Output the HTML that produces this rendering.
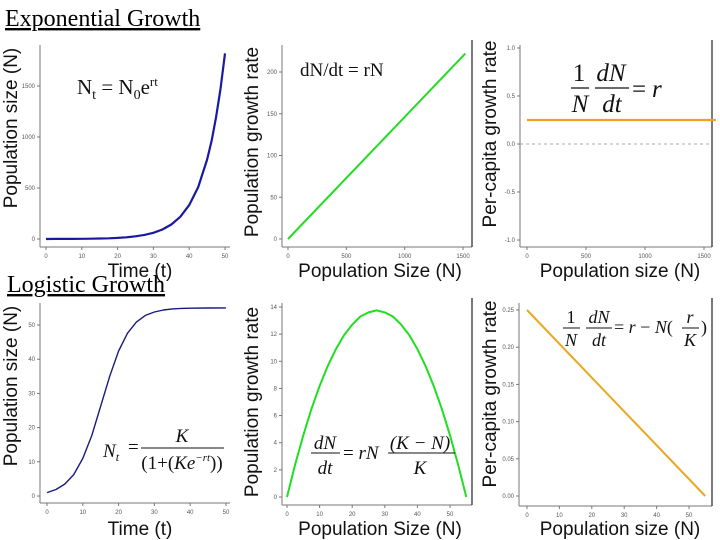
<!DOCTYPE html>
<html><head><meta charset="utf-8"><style>
html,body{margin:0;padding:0;background:#fff;width:720px;height:540px;overflow:hidden}
svg{display:block}
.tk{font-family:"Liberation Sans",sans-serif;font-size:6px;fill:#555}
.at{font-family:"Liberation Sans",sans-serif;font-size:19px;fill:#111}
.eq{font-family:"Liberation Serif",serif;fill:#111}
.hd{font-family:"Liberation Serif",serif;font-size:24px;fill:#000;text-decoration:underline}
</style></head><body>
<svg id="s" width="720" height="540" xmlns="http://www.w3.org/2000/svg">
<text class="hd" x="5" y="26">Exponential Growth</text>
<text class="hd" x="7" y="292">Logistic Growth</text>

<text class="at" transform="translate(17,128) rotate(-90)" text-anchor="middle">Population size (N)</text>
<text class="at" transform="translate(258,142) rotate(-90)" text-anchor="middle">Population growth rate</text>
<text class="at" transform="translate(496,134) rotate(-90)" text-anchor="middle">Per-capita growth rate</text>
<text class="at" transform="translate(17,386) rotate(-90)" text-anchor="middle">Population size (N)</text>
<text class="at" transform="translate(258,402) rotate(-90)" text-anchor="middle">Population growth rate</text>
<text class="at" transform="translate(496,394) rotate(-90)" text-anchor="middle">Per-capita growth rate</text>

<text class="at" x="140" y="277" text-anchor="middle">Time (t)</text>
<text class="at" x="380" y="277" text-anchor="middle">Population Size (N)</text>
<text class="at" x="620" y="277" text-anchor="middle">Population size (N)</text>
<text class="at" x="140" y="535" text-anchor="middle">Time (t)</text>
<text class="at" x="380" y="535" text-anchor="middle">Population Size (N)</text>
<text class="at" x="620" y="535" text-anchor="middle">Population size (N)</text>

<g id="plots"></g>

<g class="eq">
<text x="77" y="94" font-size="21">N<tspan font-size="14" dy="5">t</tspan><tspan dy="-5"> = N</tspan><tspan font-size="14" dy="5">0</tspan><tspan dy="-5">e</tspan><tspan font-size="13" dy="-8">rt</tspan></text>
</g>
<text class="eq" x="300" y="76" font-size="19">dN/dt = rN</text>
<g class="eq" font-size="25">
<text x="579" y="81" text-anchor="middle">1</text><line x1="571" y1="88" x2="589" y2="88" stroke="#111" stroke-width="1.2"/>
<text x="580" y="112" text-anchor="middle" font-style="italic">N</text>
<text x="611" y="81" text-anchor="middle" font-style="italic">dN</text><line x1="595" y1="88" x2="629" y2="88" stroke="#111" stroke-width="1.2"/>
<text x="612" y="112" text-anchor="middle" font-style="italic">dt</text>
<text x="632" y="97">=</text><text x="652" y="97" font-style="italic">r</text>
</g>
<g class="eq" font-size="19">
<text x="103" y="457" font-style="italic">N<tspan font-size="12" dy="4">t</tspan></text><text x="128" y="453">=</text>
<text x="182" y="442" text-anchor="middle" font-style="italic">K</text><line x1="141" y1="448" x2="224" y2="448" stroke="#111" stroke-width="1.1"/>
<text x="182" y="469" text-anchor="middle">(1+(<tspan font-style="italic">Ke</tspan><tspan font-size="11" dy="-8" font-style="italic">−rt</tspan><tspan dy="8">))</tspan></text>
</g>
<g class="eq" font-size="19">
<text x="325" y="449" text-anchor="middle" font-style="italic">dN</text><line x1="311" y1="453" x2="340" y2="453" stroke="#111" stroke-width="1.1"/>
<text x="325" y="474" text-anchor="middle" font-style="italic">dt</text>
<text x="343" y="459">= <tspan font-style="italic">rN</tspan></text>
<text x="420" y="449" text-anchor="middle" font-style="italic">(K − N)</text><line x1="388" y1="453" x2="455" y2="453" stroke="#111" stroke-width="1.1"/>
<text x="420" y="474" text-anchor="middle" font-style="italic">K</text>
</g>
<g class="eq" font-size="18">
<text x="571" y="323" text-anchor="middle">1</text><line x1="563" y1="328" x2="580" y2="328" stroke="#111" stroke-width="1.1"/>
<text x="571" y="346" text-anchor="middle" font-style="italic">N</text>
<text x="599" y="323" text-anchor="middle" font-style="italic">dN</text><line x1="586" y1="328" x2="612" y2="328" stroke="#111" stroke-width="1.1"/>
<text x="599" y="346" text-anchor="middle" font-style="italic">dt</text>
<text x="614" y="333">= <tspan font-style="italic">r</tspan> − <tspan font-style="italic">N</tspan>(</text>
<text x="690" y="323" text-anchor="middle" font-style="italic">r</text><line x1="682" y1="328" x2="699" y2="328" stroke="#111" stroke-width="1.1"/>
<text x="690" y="346" text-anchor="middle" font-style="italic">K</text><text x="701" y="333">)</text>
</g>
</svg>
<script>
var expT = [0,2.5,5,7.5,10,12.5,15,17.5,20,22.5,25,27.5,30,32.5,35,37.5,40,42.5,45,46.25,47.5,48.75,50];
var expN = [0.4,0.6,0.9,1.3,2,3.1,4.7,7.3,11,17,26,40,61,93,142,218,332,509,778,962,1190,1472,1820];
var expRateN = [0,1520];
var expRate = [0,222];
var expPcN = [0,1600];
var expPc = [0.25,0.25];
var logT = [0,2.5,5,7.5,10,12.5,15,17.5,20,22.5,25,27.5,30,32.5,35,37.5,40,45,50];
var logN = [1.0,1.9,3.5,6.3,11.0,17.7,26.3,35.0,42.4,47.6,50.9,52.8,53.8,54.4,54.7,54.85,54.92,54.98,55];
var logRateN = [0,2.5,5,7.5,10,12.5,15,17.5,20,22.5,25,27.5,30,32.5,35,37.5,40,42.5,45,47.5,50,52.5,55];
var logRate = [0,2.39,4.55,6.48,8.18,9.66,10.9,11.93,12.7,13.3,13.6,13.75,13.6,13.3,12.7,11.93,10.9,9.66,8.18,6.48,4.55,2.39,0];
var logPcN = [0,55];
var logPc = [0.25,0];

var panels = [
 {name:'exp-size',xs:[0,50,46,225],ys:[0,1500,239,86],xt:[0,10,20,30,40,50],yt:[0,500,1000,1500],xtl:['0','10','20','30','40','50'],ytl:['0','500','1000','1500'],ax:[40,45,247,230],right:false,x:expT,y:expN,col:'#1a1aa0',w:2.2},
 {name:'exp-rate',xs:[0,1500,288,463],ys:[0,200,239,72],xt:[0,500,1000,1500],yt:[0,50,100,150,200],xtl:['0','500','1000','1500'],ytl:['0','50','100','150','200'],ax:[282,45,247,472],right:true,x:expRateN,y:expRate,col:'#22dd22',w:2},
 {name:'exp-percapita',xs:[0,1500,527,704],ys:[-1,1,240,48],xt:[0,500,1000,1500],yt:[-1,-0.5,0,0.5,1],xtl:['0','500','1000','1500'],ytl:['-1.0','-0.5','0.0','0.5','1.0'],ax:[520,45,247,712],right:true,x:expPcN,y:expPc,col:'#f0a020',w:2.2,dash0:true},
 {name:'log-size',xs:[0,50,47,226],ys:[0,50,496,325],xt:[0,10,20,30,40,50],yt:[0,10,20,30,40,50],xtl:['0','10','20','30','40','50'],ytl:['0','10','20','30','40','50'],ax:[40,303,503,230],right:false,x:logT,y:logN,col:'#1a1a80',w:1.4},
 {name:'log-rate',xs:[0,50,287,450],ys:[0,14,497,307],xt:[0,10,20,30,40,50],yt:[0,2,4,6,8,10,12,14],xtl:['0','10','20','30','40','50'],ytl:['0','2','4','6','8','10','12','14'],ax:[282,303,505,472],right:true,x:logRateN,y:logRate,col:'#22dd22',w:2},
 {name:'log-percapita',xs:[0,50,527,689],ys:[0,0.25,496,310],xt:[0,10,20,30,40,50],yt:[0,0.05,0.1,0.15,0.2,0.25],xtl:['0','10','20','30','40','50'],ytl:['0.00','0.05','0.10','0.15','0.20','0.25'],ax:[519,303,506,712],right:true,x:logPcN,y:logPc,col:'#e8a820',w:2}
];
var NS='http://www.w3.org/2000/svg';
var root=document.getElementById('plots');
function mk(tag,attrs,parent){var e=document.createElementNS(NS,tag);for(var k in attrs)e.setAttribute(k,attrs[k]);parent.appendChild(e);return e;}
panels.forEach(function(p){
  var g=mk('g',{},root);
  
  
  function sx(v){return p.xs[2]+(v-p.xs[0])/(p.xs[1]-p.xs[0])*(p.xs[3]-p.xs[2]);}
  function sy(v){return p.ys[2]+(v-p.ys[0])/(p.ys[1]-p.ys[0])*(p.ys[3]-p.ys[2]);}
  var L=p.ax[0],T=p.ax[1],B=p.ax[2],R=p.ax[3];
  var ay=mk('line',{x1:L,y1:T,x2:L,y2:B,stroke:'#777','stroke-width':1},g);
  
  
  var axb=mk('line',{x1:L,y1:B,x2:R,y2:B,stroke:'#777','stroke-width':1},g);
  
  
  if(p.right){var rl=mk('line',{x1:R,y1:T-5,x2:R,y2:B,stroke:'#222','stroke-width':1.2},g);
    
    }
  p.xt.forEach(function(v,i){var x=sx(v);
    mk('line',{x1:x,y1:B,x2:x,y2:B+3,stroke:'#777'},g);
    var t=mk('text',{x:x,y:B+11,'text-anchor':'middle','class':'tk'},g);t.textContent=p.xtl[i];
    
    });
  p.yt.forEach(function(v,i){var y=sy(v);
    mk('line',{x1:L-3,y1:y,x2:L,y2:y,stroke:'#777'},g);
    var t=mk('text',{x:L-5,y:y+2,'text-anchor':'end','class':'tk'},g);t.textContent=p.ytl[i];
    
    });
  if(p.dash0){var d=mk('line',{x1:L,y1:sy(0),x2:R,y2:sy(0),stroke:'#aaa','stroke-dasharray':'3,3'},g);
    
    }
  var pts=p.x.map(function(v,i){return sx(v).toFixed(1)+','+sy(p.y[i]).toFixed(1);}).join(' ');
  var pl=mk('polyline',{points:pts,fill:'none',stroke:p.col,'stroke-width':p.w,'stroke-linejoin':'round'},g);
  
  
});
</script>
</body></html>
